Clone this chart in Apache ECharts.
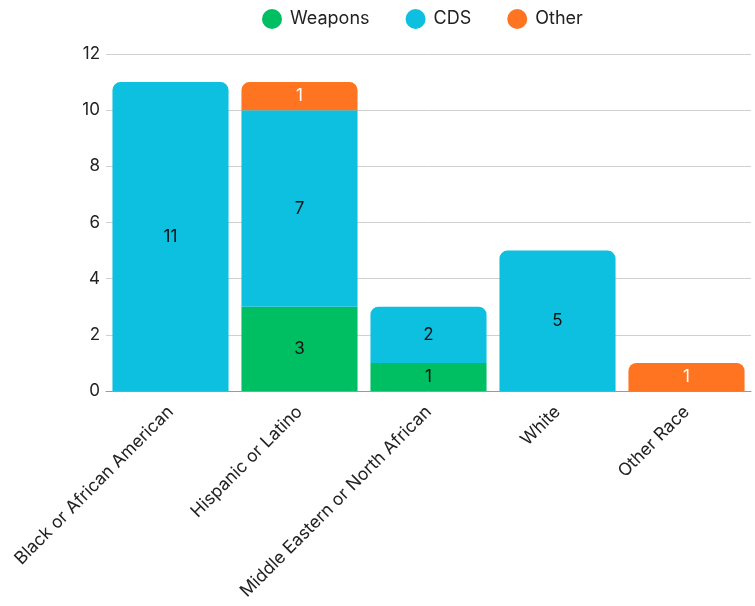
<!DOCTYPE html>
<html><head><meta charset="utf-8">
<script src="https://cdn.jsdelivr.net/npm/echarts@6/dist/echarts.min.js"></script>
<style>html,body{margin:0;padding:0;background:#fff}#c{width:755px;height:606px}</style>
</head><body><div id="c"></div>
<script>
const categories = ['Black or African American','Hispanic or Latino','Middle Eastern or North African','White','Other Race'];
const weapons = [0,3,1,0,0];
const cds = [11,7,2,5,0];
const other = [0,1,0,0,1];
const yTicks = [0,2,4,6,8,10,12];

const seriesDefs = [
  {name:'Weapons', data:weapons, color:'#00BF63', labelColor:'#111'},
  {name:'CDS', data:cds, color:'#0EC0DF', labelColor:'#111'},
  {name:'Other', data:other, color:'#FF7420', labelColor:'#fff'}
];
const topIdx = categories.map((_,i)=>{let t=-1;seriesDefs.forEach((s,k)=>{if(s.data[i]>0)t=k;});return t;});

const font = 'Inter, "Noto Sans", sans-serif';
const chart = echarts.init(document.getElementById('c'));
chart.setOption({
  animation:false,
  textStyle:{fontFamily:font},
  legend:{top:4,left:257,itemWidth:20,itemHeight:20,itemGap:36,icon:'circle',
    textStyle:{fontSize:18,color:'#222',fontFamily:font,padding:[0,0,0,3]}},
  grid:{left:106,right:4,top:54,bottom:215,containLabel:false},
  xAxis:{type:'category',data:categories,
    axisLine:{lineStyle:{color:'#999'}},axisTick:{show:false},
    axisLabel:{rotate:45,fontSize:17.5,color:'#222',fontFamily:font,interval:0,margin:18}},
  yAxis:{type:'value',min:0,max:12,interval:2,
    axisLine:{show:false},axisTick:{show:false},
    splitLine:{lineStyle:{color:'#d0d0d0'}},
    axisLabel:{fontSize:17,color:'#222',fontFamily:font,margin:6}},
  series: seriesDefs.map((s,k)=>({
    name:s.name,type:'bar',stack:'a',barCategoryGap:'10%',
    itemStyle:{color:s.color},
    label:{show:true,position:'inside',fontSize:17,color:s.labelColor,fontFamily:font},
    data:s.data.map((v,i)=>v>0?{value:v,itemStyle:{borderRadius:topIdx[i]===k?[8,8,0,0]:0}}:'-')
  }))
});
</script></body></html>
